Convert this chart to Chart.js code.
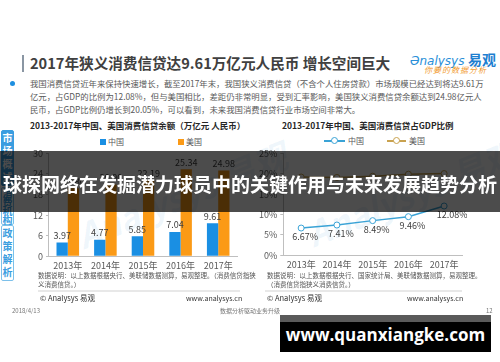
<!DOCTYPE html>
<html><head><meta charset="utf-8">
<script src="https://cdn.jsdelivr.net/npm/chart.js@4/dist/chart.umd.min.js"></script>
<style>
html,body{margin:0;padding:0;background:#fff;}
body{width:500px;height:362px;position:relative;overflow:hidden;font-family:"Noto Sans CJK SC","Noto Sans",sans-serif;}
.a{position:absolute;white-space:nowrap;}
canvas{position:absolute;}
.side{position:absolute;left:1px;width:11px;border:1.5px solid #7cc0ea;border-radius:2px;color:#3a9de0;font-size:10px;line-height:13px;text-align:center;font-weight:bold;}
.wm{position:absolute;white-space:nowrap;color:rgba(90,160,220,0.10);font-style:italic;font-weight:bold;transform:rotate(-22deg);}
</style></head>
<body>
<!-- header -->
<div class="a" style="left:22px;top:55px;width:2px;height:17px;background:#8a96a3"></div>
<div class="a" style="left:30px;top:53px;font-size:14.6px;font-weight:bold;color:#404040;line-height:20px">2017年狭义消费信贷达9.61万亿元人民币 增长空间巨大</div>
<div class="a" style="left:410px;top:49px;line-height:18px"><span style="font-family:'DejaVu Sans';font-style:italic;font-size:12px;color:#2a8fd8">Ənalysys</span> <span style="font-size:14px;font-weight:bold;color:#1f7fd0">易观</span></div>
<div class="a" style="left:424px;top:65px;font-size:8px;font-style:italic;color:#f29a2e;letter-spacing:1px;line-height:10px">你要的数据分析</div>
<div class="a" style="left:10px;top:81px;width:5px;height:5px;border-radius:50%;background:#1e8fe0"></div>
<div class="a" style="left:30px;top:77px;font-size:8.4px;line-height:13px;color:#595959">我国消费信贷近年来保持快速增长，截至2017年末，我国狭义消费信贷（不含个人住房贷款）市场规模已经达到将达9.61万<br>亿元，占GDP的比例为12.08%，但与美国相比，差距仍非常明显，受到汇率影响，美国狭义消费信贷余额达到24.98亿元人<br>民币，占GDP比例仍增长到20.05%，可以看到，未来我国消费信贷行业市场空间非常大。</div>

<!-- side tabs -->
<div class="side" style="top:130px;height:54px;background:#3a9de0;color:#fff;border-color:#3a9de0">市<br>场<br>概<br>述</div>
<div class="side" style="top:187px;height:36px;line-height:9px;padding-top:0px">消<br>费<br>机<br>构</div>
<div class="side" style="top:225px;height:54px">政<br>策<br>解<br>析</div>

<!-- chart titles -->
<div class="a" style="left:30px;top:119px;font-size:8.5px;font-weight:bold;color:#262626;line-height:12px">2013-2017年中国、美国消费信贷余额（万亿元 人民币）</div>
<div class="a" style="left:282px;top:119px;font-size:8.5px;font-weight:bold;color:#262626;line-height:12px">2013-2017年中国、美国消费信贷占GDP比例</div>

<!-- legends -->
<div class="a" style="left:100px;top:139px;width:6px;height:6px;background:#1a8fe3"></div>
<div class="a" style="left:108px;top:136px;font-size:8px;line-height:11px;color:#595959">中国</div>
<div class="a" style="left:178px;top:139px;width:6px;height:6px;background:#fb9a16"></div>
<div class="a" style="left:186px;top:136px;font-size:8px;line-height:11px;color:#595959">美国</div>

<div class="a" style="left:324px;top:140px;width:21px;height:1.5px;background:#3aa3d6"></div>
<div class="a" style="left:331px;top:137px;width:5px;height:5px;border:1px solid #3aa3d6;border-radius:50%;background:#fff"></div>
<div class="a" style="left:348px;top:135px;font-size:8px;line-height:11px;color:#595959">中国</div>
<div class="a" style="left:387px;top:140px;width:19px;height:1.5px;background:#c9a24f"></div>
<div class="a" style="left:393px;top:137px;width:5px;height:5px;border:1px solid #c9a24f;border-radius:50%;background:#fff"></div>
<div class="a" style="left:409px;top:135px;font-size:8px;line-height:11px;color:#595959">美国</div>

<div class="wm" style="left:70px;top:170px;font-size:34px">Analysys 易观</div>
<div class="wm" style="left:300px;top:168px;font-size:34px">Analysys 易观</div>

<canvas id="c1" width="210" height="128" style="left:30px;top:145px"></canvas>
<canvas id="c2" width="211" height="127" style="left:256px;top:145px"></canvas>

<!-- notes -->
<div class="a" style="left:38px;top:271px;font-size:6.5px;line-height:9px;color:#555">数据说明：以上数据根据央行、美联储数据测算，易观整理。（消费信贷指狭<br>义消费信贷。）</div>
<div class="a" style="left:267px;top:271px;font-size:6.5px;line-height:9px;color:#555">数据说明：以上数据根据央行、国家统计局、美联储数据测算，易观整理。<br>（消费信贷指狭义消费信贷。）</div>
<div class="a" style="left:38px;top:290px;width:202px;height:2px;background:#e8e8e8"></div>
<div class="a" style="left:265px;top:290px;width:197px;height:2px;background:#e8e8e8"></div>
<div class="a" style="left:40px;top:293px;font-size:7.5px;line-height:10px;color:#333">© Analysys 易观</div>
<div class="a" style="left:186px;top:293px;font-size:7px;line-height:10px;color:#333">www.analysys.cn</div>
<div class="a" style="left:267px;top:293px;font-size:7.5px;line-height:10px;color:#333">© Analysys 易观</div>
<div class="a" style="left:407px;top:293px;font-size:7px;line-height:10px;color:#333">www.analysys.cn</div>

<div class="a" style="left:12px;top:307px;font-size:6px;line-height:8px;color:#777">2018/4/13</div>
<div class="a" style="left:220px;top:307px;font-size:6px;line-height:8px;color:#777">数据分析驱动业务升级</div>
<div class="a" style="left:486px;top:307px;font-size:6px;line-height:8px;color:#777">12</div>

<!-- overlay banner -->
<div class="a" style="left:0;top:151px;width:500px;height:61px;background:rgba(0,0,0,0.7)"></div>
<div class="a" style="left:0;top:151px;width:500px;height:61px;line-height:66px;text-align:center;color:#fff;font-size:19px;font-weight:bold">球探网络在发掘潜力球员中的关键作用与未来发展趋势分析</div>

<div class="a" style="left:280px;top:315px;width:211px;height:7px;background:#5a5a5a"></div>
<div class="a" style="left:280px;top:322px;width:211px;height:30px;background:#000"></div>
<div class="a" style="left:280px;top:322px;width:211px;height:26px;line-height:26px;text-align:center;color:#fff;font-family:'Open Sans',sans-serif;font-weight:bold;font-size:17px">www.quanxiangke.com</div>

<script>
const years = ['2013年','2014年','2015年','2016年','2017年'];
const chinaLoan = [3.97, 4.77, 5.85, 7.04, 9.61];
const usLoan = [19.8, 20.9, 22.19, 25.34, 24.98];
const chinaGdp = [6.67, 7.41, 8.49, 9.46, 12.08];
const usGdp = [19.2, 19.1, 19.4, 19.9, 20.05];
const loanTicks = [0, 6, 12, 18, 24, 30];
const gdpTicks = [0, 5, 10, 15, 20, 25];

Chart.defaults.font.family = '"Noto Sans CJK SC", "Noto Sans", sans-serif';
Chart.defaults.color = '#595959';

const valueLabels = {
  id: 'valueLabels',
  afterDatasetsDraw(chart) {
    const ctx = chart.ctx;
    chart.data.datasets.forEach((ds, i) => {
      const o = ds.lbl;
      if (!o) return;
      const meta = chart.getDatasetMeta(i);
      meta.data.forEach((el, j) => {
        const v = ds.data[j];
        ctx.save();
        ctx.font = (o.size || 9) + 'px "Noto Sans CJK SC", sans-serif';
        ctx.fillStyle = o.color || '#404040';
        ctx.textAlign = 'center';
        ctx.textBaseline = 'middle';
        const dx = (j === meta.data.length - 1 && o.lastDx !== undefined) ? o.lastDx : (o.dx || 0);
        ctx.fillText(o.fmt(v), el.x + dx, el.y + o.dy);
        ctx.restore();
      });
    });
  }
};

const xTicks = { font: { size: 9 }, padding: 2, maxRotation: 0, minRotation: 0, autoSkip: false };
const xGrid = { display: false, tickLength: 2 };

new Chart(document.getElementById('c1'), {
  type: 'bar',
  data: {
    labels: years,
    datasets: [
      { label: '中国', data: chinaLoan, backgroundColor: '#1a8fe3', categoryPercentage: 0.6, barPercentage: 1,
        lbl: { dy: -7, fmt: v => v.toFixed(2) } },
      { label: '美国', data: usLoan, backgroundColor: '#fb9a16', categoryPercentage: 0.6, barPercentage: 1,
        lbl: { dy: -7, fmt: v => v.toFixed(2) } }
    ]
  },
  options: {
    responsive: false, animation: false, devicePixelRatio: 1,
    layout: { padding: { top: 2, right: 3, left: 0, bottom: 0 } },
    plugins: { legend: { display: false }, tooltip: { enabled: false } },
    scales: {
      x: { grid: xGrid, border: { color: '#bfbfbf' }, ticks: xTicks },
      y: { min: 0, max: 30,
           afterBuildTicks: ax => { ax.ticks = loanTicks.map(v => ({ value: v })); },
           grid: { drawOnChartArea: false, tickLength: 3, color: '#bfbfbf' },
           border: { color: '#bfbfbf' }, ticks: { font: { size: 9 }, padding: 3 } }
    }
  },
  plugins: [valueLabels]
});

new Chart(document.getElementById('c2'), {
  type: 'line',
  data: {
    labels: years,
    datasets: [
      { label: '中国', data: chinaGdp, borderColor: '#3aa3d6', backgroundColor: '#fff', borderWidth: 1.5,
        pointRadius: 3, pointBorderWidth: 1, pointBackgroundColor: '#fff', pointBorderColor: '#3aa3d6', tension: 0,
        lbl: { dy: 9, dx: 4, lastDx: 8, fmt: v => v.toFixed(2) + '%' } },
      { label: '美国', data: usGdp, borderColor: '#c9a24f', backgroundColor: '#fff', borderWidth: 1.5,
        pointRadius: 3, pointBorderWidth: 1, pointBackgroundColor: '#fff', pointBorderColor: '#c9a24f', tension: 0 }
    ]
  },
  options: {
    responsive: false, animation: false, devicePixelRatio: 1,
    layout: { padding: { top: 2, right: 3, left: 0, bottom: 0 } },
    plugins: { legend: { display: false }, tooltip: { enabled: false } },
    scales: {
      x: { offset: true, grid: xGrid, border: { color: '#bfbfbf' }, ticks: xTicks },
      y: { min: 0, max: 25,
           afterBuildTicks: ax => { ax.ticks = gdpTicks.map(v => ({ value: v })); },
           grid: { drawOnChartArea: false, tickLength: 3, color: '#bfbfbf' },
           border: { color: '#bfbfbf' }, ticks: { font: { size: 9 }, padding: 3, callback: v => v + '%' } }
    }
  },
  plugins: [valueLabels]
});
</script>
</body></html>
